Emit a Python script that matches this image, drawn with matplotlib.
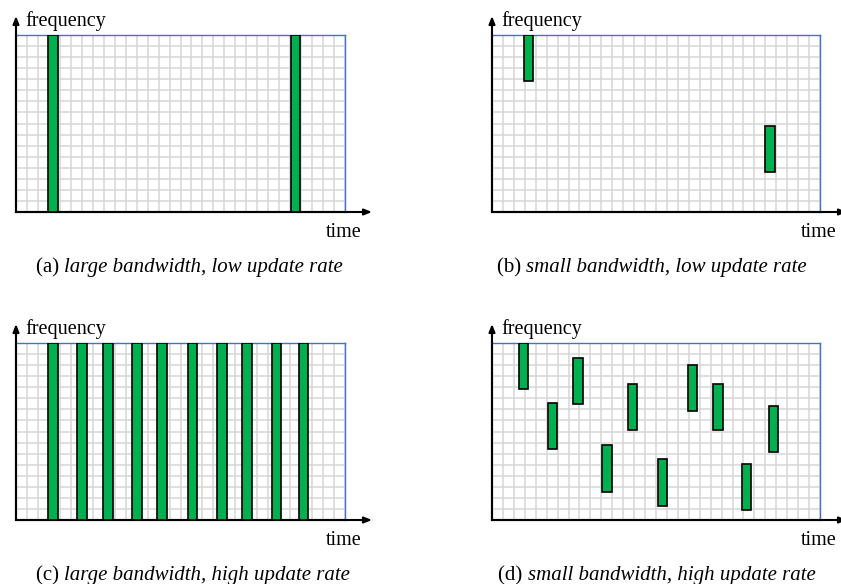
import matplotlib
matplotlib.use("Agg")
import matplotlib.pyplot as plt
from matplotlib.transforms import offset_copy

# ===========================
# DATA (grid units: 30 time slots x 16 frequency channels)
# ===========================
N_COLS = 30
N_ROWS = 16
BAR_W = 0.85
HOP_H = 4.2

a_starts = [2.95, 25.05]

b_starts = [2.9, 25.0]
b_bottoms = [11.8, 3.6]

c_starts = [2.95, 5.6, 7.95, 10.6, 12.9, 15.7, 18.35, 20.65, 23.35, 25.8]

d_starts = [2.45, 5.1, 7.45, 10.1, 12.45, 15.15, 17.9, 20.25, 22.85, 25.35]
d_bottoms = [11.8, 6.42, 10.48, 2.54, 8.1, 1.27, 9.85, 8.1, 0.88, 6.15]

captions = [
    ("(a) ", "large bandwidth, low update rate"),
    ("(b) ", "small bandwidth, low update rate"),
    ("(c) ", "large bandwidth, high update rate"),
    ("(d) ", "small bandwidth, high update rate"),
]

# ===========================
# STYLE
# ===========================
W, H = 841, 584
GREEN = "#00B050"
GRID = "#D6D6D6"
BLUE = "#4472C4"
SERIF = ["Liberation Serif", "DejaVu Serif"]
plt.rcParams["font.family"] = SERIF
CAP_FS = 15

# panel boxes in pixels: left, top, right, bottom
boxes = [
    (16, 35, 345, 212),
    (492, 35, 820, 212),
    (16, 343, 345, 520),
    (492, 343, 820, 520),
]
cap_left = [36, 497, 36, 498]
cap_base = [272, 272, 580, 580]   # caption baseline, pixels from top

fig = plt.figure(figsize=(W / 100, H / 100), dpi=100)
renderer = fig.canvas.get_renderer()


def make_panel(box, cap, cap_x, cap_y):
    l, t, r, b = box
    ax = fig.add_axes([l / W, 1 - b / H, (r - l) / W, (b - t) / H])
    ax.set_xlim(0, N_COLS)
    ax.set_ylim(0, N_ROWS)
    ax.set_xticks(range(N_COLS + 1))
    ax.set_yticks(range(N_ROWS + 1))
    ax.tick_params(length=0, labelbottom=False, labelleft=False)
    ax.grid(True, color=GRID, lw=1.1)
    ax.set_axisbelow(True)
    for s in ["top", "right"]:
        ax.spines[s].set_color(BLUE)
        ax.spines[s].set_linewidth(1.0)
    for s in ["left", "bottom"]:
        ax.spines[s].set_color("black")
        ax.spines[s].set_linewidth(1.5)

    px_x = (r - l) / N_COLS
    px_y = (b - t) / N_ROWS
    # axis arrows
    arrow = dict(arrowstyle="-|>,head_length=0.45,head_width=0.18",
                 lw=1.5, color="black", shrinkA=0, shrinkB=0)
    ax.annotate("", xy=(0, N_ROWS + 19 / px_y), xytext=(0, 0),
                arrowprops=arrow, annotation_clip=False)
    ax.annotate("", xy=(N_COLS + 27 / px_x, 0), xytext=(0, 0),
                arrowprops=arrow, annotation_clip=False)

    ax.text(9 / px_x, N_ROWS + 14 / px_y, "frequency", fontsize=14.5,
            ha="left", va="center")
    ax.text(N_COLS - 0.1, -25 / px_y, "time", fontsize=14.5,
            ha="center", va="baseline")

    # caption: upright label + italic text on one baseline
    x0 = (cap_x - l) / px_x
    y0 = -(cap_y - b) / px_y
    t1 = ax.text(x0, y0, cap[0], fontsize=CAP_FS, ha="left", va="baseline")
    w1 = t1.get_window_extent(renderer).width
    ax.text(x0, y0, cap[1], fontsize=CAP_FS, style="italic",
            ha="left", va="baseline",
            transform=offset_copy(ax.transData, fig=fig, x=w1, y=0, units="dots"))
    return ax


axes = [make_panel(bx, cp, cx, cy)
        for bx, cp, cx, cy in zip(boxes, captions, cap_left, cap_base)]

bar_kw = dict(width=BAR_W, align="edge", color=GREEN, edgecolor="black",
              linewidth=1.2, zorder=3)

axes[0].bar(a_starts, [N_ROWS] * len(a_starts), bottom=0, **bar_kw)
axes[1].bar(b_starts, [HOP_H] * len(b_starts), bottom=b_bottoms, **bar_kw)
axes[2].bar(c_starts, [N_ROWS] * len(c_starts), bottom=0, **bar_kw)
axes[3].bar(d_starts, [HOP_H] * len(d_starts), bottom=d_bottoms, **bar_kw)

fig.savefig("out.png", dpi=100)
